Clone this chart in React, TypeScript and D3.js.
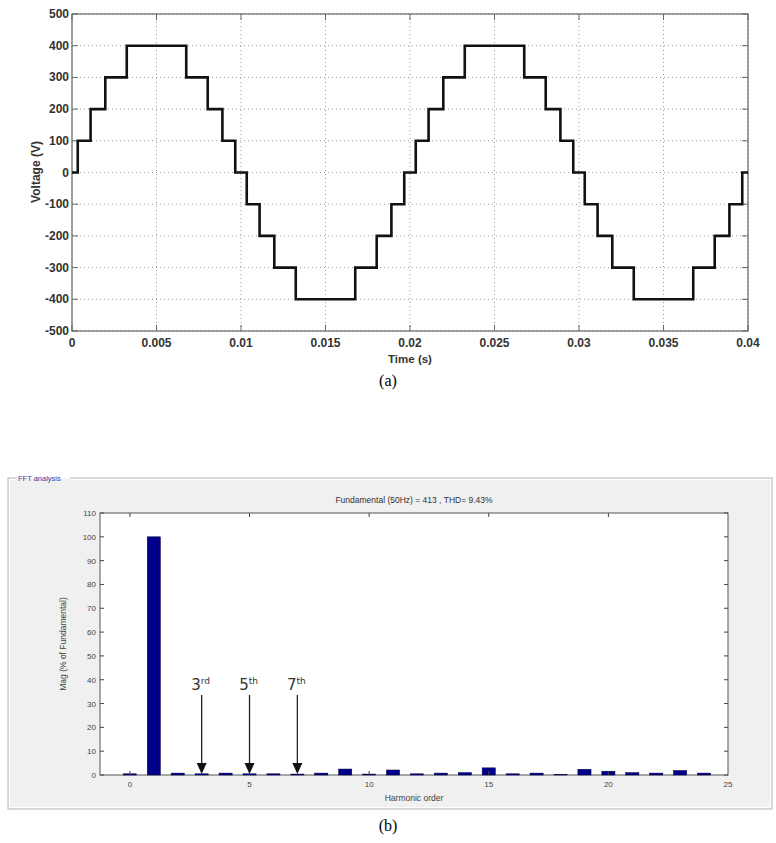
import React from "react";
import * as d3 from "d3";

// (a) staircase output voltage
const stepTimes = [
  0, 0.00034, 0.0011, 0.00197, 0.00324, 0.00676, 0.00803, 0.0089, 0.00966,
  0.01034, 0.0111, 0.01197, 0.01324, 0.01676, 0.01803, 0.0189, 0.01966,
  0.02034, 0.0211, 0.02197, 0.02324, 0.02676, 0.02803, 0.0289, 0.02966,
  0.03034, 0.0311, 0.03197, 0.03324, 0.03676, 0.03803, 0.0389, 0.03966, 0.04,
];
const stepLevels = [
  0, 100, 200, 300, 400, 300, 200, 100, 0,
  -100, -200, -300, -400, -300, -200, -100, 0,
  100, 200, 300, 400, 300, 200, 100, 0,
  -100, -200, -300, -400, -300, -200, -100, 0, 0,
];
const timeTicks = [0, 0.005, 0.01, 0.015, 0.02, 0.025, 0.03, 0.035, 0.04];
const voltTicks = [500, 400, 300, 200, 100, 0, -100, -200, -300, -400, -500];

// (b) FFT spectrum
const harmonics = [0, 1, 2, 3, 4, 5, 6, 7, 8, 9, 10, 11, 12, 13, 14, 15, 16, 17, 18, 19, 20, 21, 22, 23, 24];
const magnitudes = [0.5, 100, 0.8, 0.5, 0.8, 0.5, 0.5, 0.4, 0.8, 2.5, 0.4, 2.1, 0.5, 0.8, 1, 3, 0.5, 0.8, 0.3, 2.4, 1.6, 1, 0.8, 1.9, 0.8];
const harmTicks = [0, 5, 10, 15, 20, 25];
const magTicks = [0, 10, 20, 30, 40, 50, 60, 70, 80, 90, 100, 110];
const markedOrders = [3, 5, 7];
const markedLabels = [["3", "rd"], ["5", "th"], ["7", "th"]];

const fmtTime = (d: number) => (d === 0 ? "0" : String(d));

export default function App() {
  // top chart
  const x1 = d3.scaleLinear().domain([0, 0.04]).range([72, 748]);
  const y1 = d3.scaleLinear().domain([-500, 500]).range([331, 14]);
  const pts = stepTimes.map((t, i) => [t, stepLevels[i]] as [number, number]);
  const wave = d3
    .line<[number, number]>()
    .x((d) => x1(d[0]))
    .y((d) => y1(d[1]))
    .curve(d3.curveStepAfter)(pts);

  // bottom chart
  const x2 = d3.scaleLinear().domain([-1.25, 25]).range([100, 728]);
  const y2 = d3.scaleLinear().domain([0, 110]).range([775, 513]);
  const bw = 0.55 * (x2(1) - x2(0));

  const tickFont = "Liberation Sans, Arial, sans-serif";

  return (
    <svg
      width={776}
      height={843}
      style={{ position: "absolute", left: 0, top: 0, background: "#fff" }}
    >
      {/* ---------- (a) ---------- */}
      <g>
        {timeTicks.map((t) => (
          <line key={"gx" + t} x1={x1(t)} x2={x1(t)} y1={14} y2={331} stroke="#999" strokeWidth={1} strokeDasharray="1,3" />
        ))}
        {voltTicks.map((v) => (
          <line key={"gy" + v} x1={72} x2={748} y1={y1(v)} y2={y1(v)} stroke="#999" strokeWidth={1} strokeDasharray="1,3" />
        ))}
        <rect x={72} y={14} width={676} height={317} fill="none" stroke="#666" strokeWidth={1.2} />
        {timeTicks.map((t) => (
          <g key={"tx" + t}>
            <line x1={x1(t)} x2={x1(t)} y1={331} y2={325} stroke="#666" />
            <line x1={x1(t)} x2={x1(t)} y1={14} y2={20} stroke="#666" />
            <text x={x1(t)} y={347} textAnchor="middle" fontFamily={tickFont} fontSize={12} fontWeight="bold" fill="#333">
              {fmtTime(t)}
            </text>
          </g>
        ))}
        {voltTicks.map((v) => (
          <g key={"ty" + v}>
            <line x1={72} x2={78} y1={y1(v)} y2={y1(v)} stroke="#666" />
            <line x1={748} x2={742} y1={y1(v)} y2={y1(v)} stroke="#666" />
            <text x={69} y={y1(v) + 4} textAnchor="end" fontFamily={tickFont} fontSize={12} fontWeight="bold" fill="#333">
              {v}
            </text>
          </g>
        ))}
        <path d={wave || ""} fill="none" stroke="#111" strokeWidth={2.6} />
        <text x={410} y={363} textAnchor="middle" fontFamily={tickFont} fontSize={11.5} fontWeight="bold" fill="#333">
          Time (s)
        </text>
        <text
          transform={`translate(40,172) rotate(-90)`}
          textAnchor="middle"
          fontFamily={tickFont}
          fontSize={12}
          fontWeight="bold"
          fill="#333"
        >
          Voltage (V)
        </text>
        <text x={388} y={386} textAnchor="middle" fontFamily="Liberation Serif, Times New Roman, serif" fontSize={16} fill="#000">
          (a)
        </text>
      </g>

      {/* ---------- (b) ---------- */}
      <g>
        <rect x={8} y={478} width={764} height={331} fill="#f0f0f0" stroke="#c4c4c4" strokeWidth={1.2} />
        <rect x={9.5} y={479.5} width={761} height={328} fill="none" stroke="#fff" strokeWidth={1} />
        <rect x={16} y={472} width={54} height={12} fill="#fff" />
        <rect x={16} y={478.5} width={54} height={6} fill="#f0f0f0" />
        <text x={18} y={481} fontFamily={tickFont} fontSize={7.5} fill="#3a3aa0">
          FFT analysis
        </text>
        <text x={414} y={503} textAnchor="middle" fontFamily={tickFont} fontSize={8.5} fill="#333">
          Fundamental (50Hz) = 413 , THD= 9.43%
        </text>
        <rect x={100} y={513} width={628} height={262} fill="#fff" stroke="#555" strokeWidth={1} />
        {harmonics.map((h, i) => (
          <rect
            key={"b" + h}
            x={x2(h) - bw / 2}
            y={y2(magnitudes[i])}
            width={bw}
            height={y2(0) - y2(magnitudes[i])}
            fill="#00008b"
            stroke="#000040"
            strokeWidth={0.5}
          />
        ))}
        {harmTicks.map((h) => (
          <g key={"hx" + h}>
            {h < 25 && <line x1={x2(h)} x2={x2(h)} y1={775} y2={771} stroke="#444" />}
            {h < 25 && <line x1={x2(h)} x2={x2(h)} y1={513} y2={517} stroke="#444" />}
            <text x={x2(h)} y={787} textAnchor="middle" fontFamily={tickFont} fontSize={8} fill="#444">
              {h}
            </text>
          </g>
        ))}
        {magTicks.map((m) => (
          <g key={"my" + m}>
            <line x1={100} x2={104} y1={y2(m)} y2={y2(m)} stroke="#444" />
            <line x1={728} x2={724} y1={y2(m)} y2={y2(m)} stroke="#444" />
            <text x={96} y={y2(m) + 3} textAnchor="end" fontFamily={tickFont} fontSize={8} fill="#444">
              {m}
            </text>
          </g>
        ))}
        <text x={414} y={801} textAnchor="middle" fontFamily={tickFont} fontSize={8.5} fill="#444">
          Harmonic order
        </text>
        <text
          transform={`translate(66,644) rotate(-90)`}
          textAnchor="middle"
          fontFamily={tickFont}
          fontSize={8.5}
          fill="#444"
        >
          Mag (% of Fundamental)
        </text>
        {markedOrders.map((h, i) => (
          <g key={"m" + h}>
            <line x1={x2(h)} x2={x2(h)} y1={695} y2={765} stroke="#222" strokeWidth={1.3} />
            <path
              d={`M${x2(h) - 5},${763} L${x2(h) + 5},${763} L${x2(h)},${774} Z`}
              fill="#111"
            />
            <text x={x2(h) - 1} y={690} textAnchor="middle" fontFamily="DejaVu Sans, sans-serif" fontSize={15} fill="#333">
              {markedLabels[i][0]}
              <tspan fontSize={9} dy={-6}>{markedLabels[i][1]}</tspan>
            </text>
          </g>
        ))}
        <text x={388} y={831} textAnchor="middle" fontFamily="Liberation Serif, Times New Roman, serif" fontSize={16} fill="#000">
          (b)
        </text>
      </g>
    </svg>
  );
}
